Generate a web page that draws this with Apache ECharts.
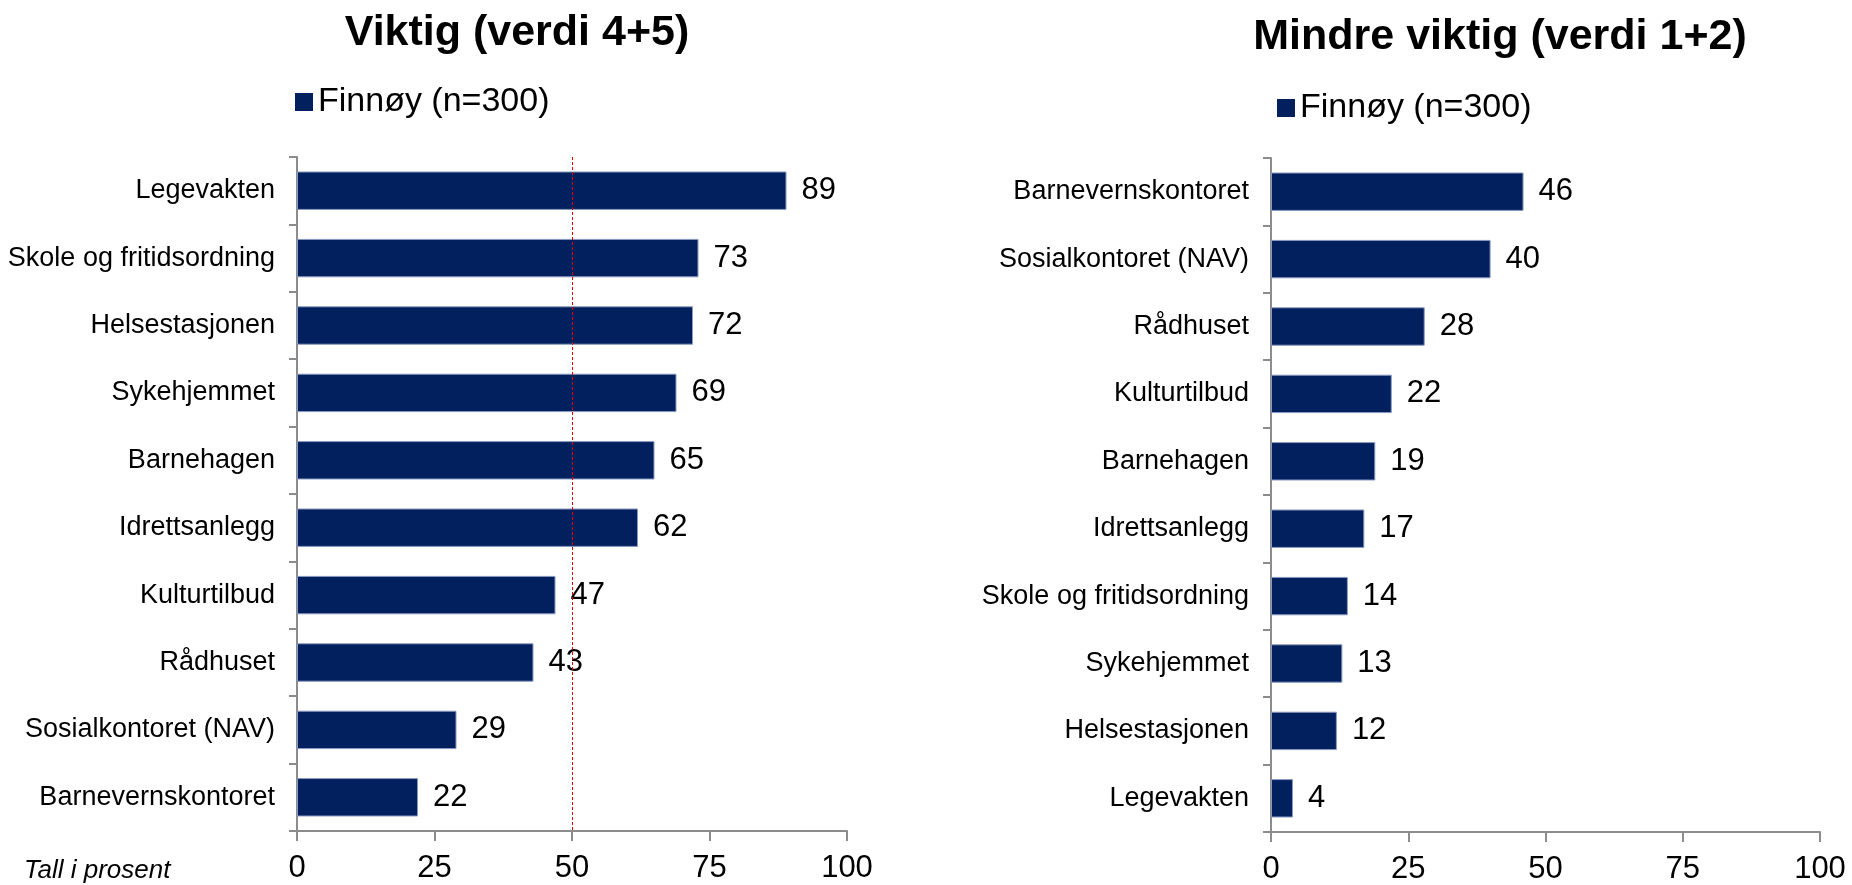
<!DOCTYPE html>
<html>
<head>
<meta charset="utf-8">
<script src="https://cdn.jsdelivr.net/npm/echarts@6/dist/echarts.min.js"></script>
<style>
  html, body { margin: 0; padding: 0; background: #fff; }
  #main { width: 1852px; height: 885px; }
</style>
</head>
<body>
<div id="main"></div>
<script>
// data
var seriesName = 'Finnøy (n=300)';
var viktigCats = ['Legevakten', 'Skole og fritidsordning', 'Helsestasjonen', 'Sykehjemmet', 'Barnehagen',
  'Idrettsanlegg', 'Kulturtilbud', 'Rådhuset', 'Sosialkontoret (NAV)', 'Barnevernskontoret'];
var viktigVals = [89, 73, 72, 69, 65, 62, 47, 43, 29, 22];
var mindreCats = ['Barnevernskontoret', 'Sosialkontoret (NAV)', 'Rådhuset', 'Kulturtilbud', 'Barnehagen',
  'Idrettsanlegg', 'Skole og fritidsordning', 'Sykehjemmet', 'Helsestasjonen', 'Legevakten'];
var mindreVals = [46, 40, 28, 22, 19, 17, 14, 13, 12, 4];
var xTicks = [0, 25, 50, 75, 100];
var refLine = 50;

var myChart = echarts.init(document.getElementById('main'));
var font = 'Liberation Sans, Arial, sans-serif';
var axisGray = '#8c8c8c';

function xAxisFor(idx) {
  return {
    type: 'value', gridIndex: idx, min: xTicks[0], max: xTicks[xTicks.length - 1], interval: 25,
    axisLine: { show: true, lineStyle: { color: axisGray, width: 2 } },
    axisTick: { show: true, length: 10, lineStyle: { color: axisGray, width: 2 } },
    splitLine: { show: false },
    axisLabel: { fontSize: 31, color: '#000', fontFamily: font, margin: 22 }
  };
}
function yAxisFor(idx, cats) {
  return {
    type: 'category', gridIndex: idx, data: cats, inverse: true,
    axisLine: { show: true, lineStyle: { color: axisGray, width: 2 } },
    axisTick: { show: true, length: 8, alignWithLabel: false, lineStyle: { color: axisGray, width: 2 } },
    axisLabel: { fontSize: 27, color: '#000', fontFamily: font, margin: 22 }
  };
}
function barSeries(idx, vals, extra) {
  var s = {
    name: seriesName, type: 'bar', xAxisIndex: idx, yAxisIndex: idx, data: vals,
    barCategoryGap: '43%',
    itemStyle: { color: '#02205e', borderColor: '#8a9ac0', borderWidth: 1 },
    label: { show: true, position: 'right', distance: 15, fontSize: 31, color: '#000', fontFamily: font },
    silent: true
  };
  for (var k in extra) s[k] = extra[k];
  return s;
}

var option = {
  animation: false,
  title: [
    { text: 'Viktig (verdi 4+5)', left: 512, top: 7, textAlign: 'center',
      textStyle: { fontSize: 43, fontWeight: 'bold', color: '#000', fontFamily: font } },
    { text: 'Mindre viktig (verdi 1+2)', left: 1495, top: 11, textAlign: 'center',
      textStyle: { fontSize: 43, fontWeight: 'bold', color: '#000', fontFamily: font } }
  ],
  legend: [
    { data: [seriesName], left: 290, top: 80, icon: 'rect', itemWidth: 18, itemHeight: 18,
      itemStyle: { borderWidth: 0 },
      textStyle: { fontSize: 34, color: '#000', fontFamily: font }, selectedMode: false },
    { data: [seriesName], left: 1272, top: 86, icon: 'rect', itemWidth: 18, itemHeight: 18,
      itemStyle: { borderWidth: 0 },
      textStyle: { fontSize: 34, color: '#000', fontFamily: font }, selectedMode: false }
  ],
  grid: [
    { left: 297, top: 157, width: 550, height: 674 },
    { left: 1271, top: 158, width: 549, height: 674 }
  ],
  xAxis: [xAxisFor(0), xAxisFor(1)],
  yAxis: [yAxisFor(0, viktigCats), yAxisFor(1, mindreCats)],
  graphic: [
    { type: 'text', left: 24, top: 858,
      style: { text: 'Tall i prosent', fontSize: 26, fontStyle: 'italic', fill: '#000', fontFamily: font } }
  ],
  series: [
    barSeries(0, viktigVals, {
      markLine: {
        silent: true, symbol: 'none', label: { show: false },
        lineStyle: { color: '#e00000', width: 1, type: [3, 2] },
        data: [{ xAxis: refLine }]
      }
    }),
    barSeries(1, mindreVals, {})
  ]
};

myChart.setOption(option);
</script>
</body>
</html>
